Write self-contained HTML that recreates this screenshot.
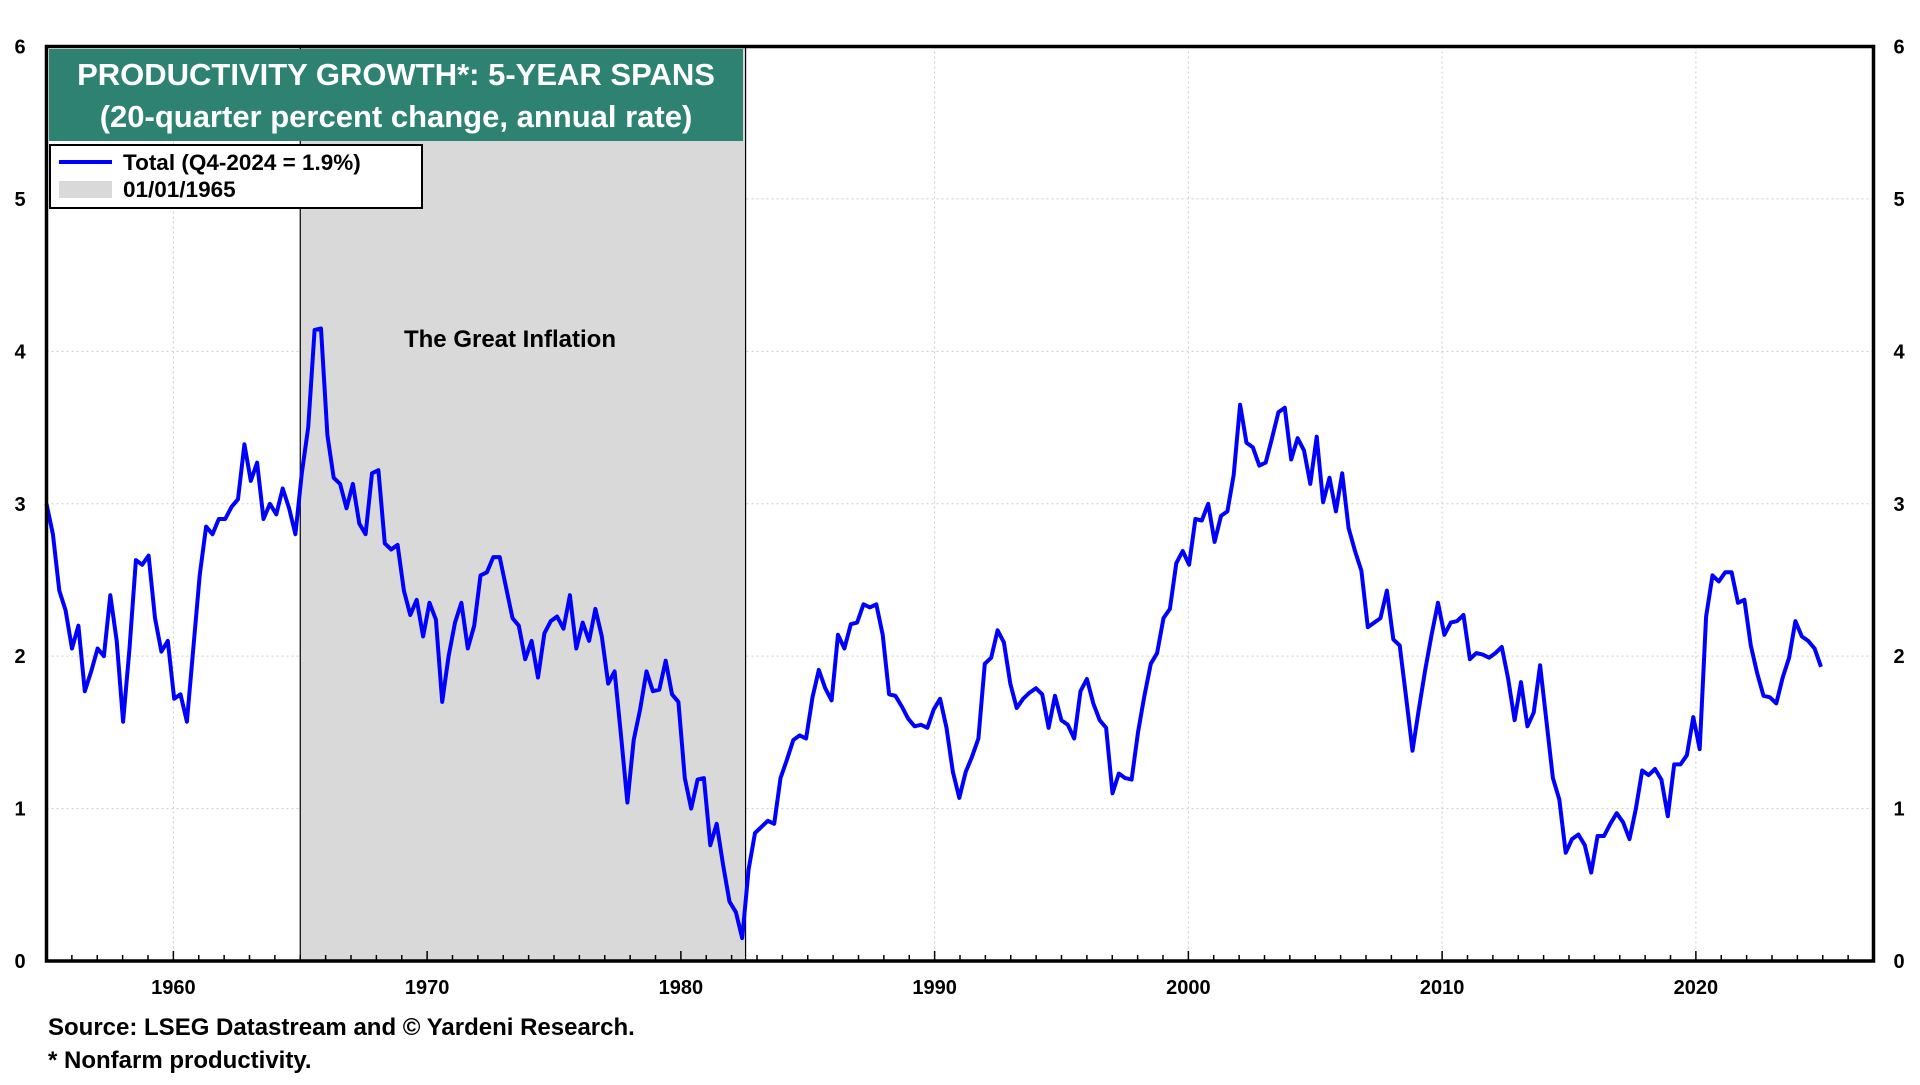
<!DOCTYPE html>
<html><head><meta charset="utf-8"><style>
body{margin:0;background:#fff;}
svg text{font-family:"Liberation Sans",Arial,sans-serif;font-weight:bold;}
</style></head><body>
<svg id="chart" width="1920" height="1080" xmlns="http://www.w3.org/2000/svg">
<g id="grid"></g>
<g id="shade"></g>
<g id="series"></g>
<g id="axes"></g>
</svg>
<script>
const yTicks=[0,1,2,3,4,5,6];
const xTicks=[1960,1970,1980,1990,2000,2010,2020];
const shadeRange=[1965,1982.55];
const startYear=1955.0;
const endYear=2024.93;
const values=[3.0,2.8,2.43,2.3,2.05,2.2,1.77,1.9,2.05,2.0,2.4,2.1,1.57,2.05,2.63,2.6,2.66,2.25,2.03,2.1,1.72,1.75,1.57,2.05,2.53,2.85,2.8,2.9,2.9,2.98,3.03,3.39,3.15,3.27,2.9,3.0,2.93,3.1,2.97,2.8,3.2,3.5,4.14,4.15,3.45,3.17,3.13,2.97,3.13,2.87,2.8,3.2,3.22,2.74,2.7,2.73,2.43,2.27,2.37,2.13,2.35,2.24,1.7,2.0,2.22,2.35,2.05,2.2,2.53,2.55,2.65,2.65,2.45,2.25,2.2,1.98,2.1,1.86,2.15,2.23,2.26,2.18,2.4,2.05,2.22,2.1,2.31,2.13,1.82,1.9,1.48,1.04,1.45,1.65,1.9,1.77,1.78,1.97,1.75,1.7,1.2,1.0,1.19,1.2,0.76,0.9,0.63,0.39,0.32,0.15,0.6,0.84,0.88,0.92,0.9,1.2,1.32,1.45,1.48,1.46,1.73,1.91,1.79,1.71,2.14,2.05,2.21,2.22,2.34,2.32,2.34,2.14,1.75,1.74,1.67,1.59,1.54,1.55,1.53,1.65,1.72,1.53,1.24,1.07,1.24,1.34,1.46,1.95,1.99,2.17,2.09,1.82,1.66,1.72,1.76,1.79,1.75,1.53,1.74,1.58,1.55,1.46,1.77,1.85,1.69,1.58,1.53,1.1,1.23,1.2,1.19,1.5,1.74,1.95,2.02,2.25,2.31,2.61,2.69,2.6,2.9,2.89,3.0,2.75,2.92,2.95,3.19,3.65,3.4,3.37,3.25,3.27,3.43,3.6,3.63,3.29,3.43,3.35,3.13,3.44,3.01,3.17,2.95,3.2,2.84,2.69,2.56,2.19,2.22,2.25,2.43,2.11,2.07,1.73,1.38,1.65,1.91,2.14,2.35,2.14,2.22,2.23,2.27,1.98,2.02,2.01,1.99,2.02,2.06,1.85,1.58,1.83,1.54,1.63,1.94,1.57,1.2,1.06,0.71,0.8,0.83,0.76,0.58,0.82,0.82,0.9,0.97,0.91,0.8,1.0,1.25,1.22,1.26,1.19,0.95,1.29,1.29,1.35,1.6,1.39,2.26,2.53,2.49,2.55,2.55,2.35,2.37,2.07,1.89,1.74,1.73,1.69,1.86,1.99,2.23,2.13,2.1,2.05,1.93];
const L=46.5,R=1873.5,T=46.5,B=961,X0=1955.0,X1=2027.0;
const xs=v=>L+(v-X0)/(X1-X0)*(R-L);
const ys=v=>B-(v/6)*(B-T);
const NS='http://www.w3.org/2000/svg';
function mk(tag,attrs,parent,txt){const e=document.createElementNS(NS,tag);for(const k in attrs)e.setAttribute(k,attrs[k]);if(txt!==undefined)e.textContent=txt;parent.appendChild(e);return e;}
const grid=document.getElementById('grid'),shade=document.getElementById('shade'),series=document.getElementById('series'),axes=document.getElementById('axes');
yTicks.forEach(v=>{if(v>0&&v<6){const l=mk('line',{x1:L,x2:R,y1:ys(v),y2:ys(v),stroke:'#ccc','stroke-dasharray':'2,3'},grid);}
 const a=mk('text',{x:20,y:ys(v)+7,'font-size':20,'text-anchor':'middle'},axes,String(v));
 const b=mk('text',{x:1899,y:ys(v)+7,'font-size':20,'text-anchor':'middle'},axes,String(v));});
xTicks.forEach(v=>{const l=mk('line',{x1:xs(v),x2:xs(v),y1:T,y2:B,stroke:'#ccc','stroke-dasharray':'2,3'},grid);
 const t=mk('text',{x:xs(v),y:994,'font-size':20,'text-anchor':'middle'},axes,String(v));});
for(let y=1956;y<2027;y++){const tk=mk('line',{x1:xs(y),x2:xs(y),y1:B,y2:B-(y%10==0?10:6),stroke:'#000','stroke-width':1.5},axes);}
const sr=mk('rect',{x:xs(shadeRange[0]),y:T,width:xs(shadeRange[1])-xs(shadeRange[0]),height:B-T,fill:'#d9d9d9'},shade);
[shadeRange[0],shadeRange[1]].forEach(v=>{const l=mk('line',{x1:xs(v),x2:xs(v),y1:T,y2:B,stroke:'#000','stroke-width':1.2},shade);});
const gi=mk('text',{x:510,y:347,'font-size':24,'text-anchor':'middle'},shade,'The Great Inflation');
const stepYr=(endYear-startYear)/(values.length-1);
const pts=values.map((v,i)=>xs(startYear+i*stepYr).toFixed(1)+','+ys(v).toFixed(1)).join(' ');
const pl=mk('polyline',{points:pts,fill:'none',stroke:'#0000ff','stroke-width':4,'stroke-linejoin':'round'},series);
const fr=mk('rect',{x:L,y:T,width:R-L,height:B-T,fill:'none',stroke:'#000','stroke-width':3.5},axes);
const tb=mk('rect',{x:49,y:49,width:694,height:92,fill:'#2e8272'},axes);
const t1=mk('text',{x:396,y:85,'font-size':31,fill:'#fff','text-anchor':'middle'},axes,'PRODUCTIVITY GROWTH*: 5-YEAR SPANS');
const t2=mk('text',{x:396,y:127,'font-size':31,fill:'#fff','text-anchor':'middle'},axes,'(20-quarter percent change, annual rate)');
const lb=mk('rect',{x:50,y:145,width:372,height:63,fill:'#fff',stroke:'#000','stroke-width':2},axes);
const ll=mk('line',{x1:59,x2:112,y1:162,y2:162,stroke:'#0000ff','stroke-width':4},axes);
const lt=mk('text',{x:123,y:170,'font-size':22.5},axes,'Total (Q4-2024 = 1.9%)');
const ls=mk('rect',{x:59,y:181,width:53,height:17,fill:'#d9d9d9'},axes);
const lt2=mk('text',{x:123,y:197,'font-size':22.5},axes,'01/01/1965');
const s1=mk('text',{x:48,y:1035,'font-size':24},axes,'Source: LSEG Datastream and © Yardeni Research.');
const s2=mk('text',{x:48,y:1068,'font-size':24},axes,'* Nonfarm productivity.');
</script>
</body></html>
